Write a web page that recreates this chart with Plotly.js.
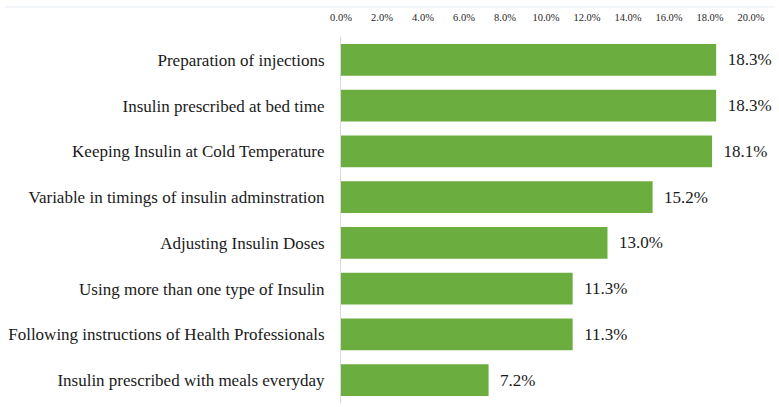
<!DOCTYPE html>
<html>
<head>
<meta charset="utf-8">
<script src="https://cdn.plot.ly/plotly-3.0.1.min.js"></script>
<style>html,body{margin:0;padding:0;background:#fff;}#chart{width:779px;height:407px;}</style>
</head>
<body>
<div id="chart"></div>
<script>
const categories = [
  "Preparation of injections",
  "Insulin prescribed at bed time",
  "Keeping Insulin at Cold Temperature",
  "Variable in timings of insulin adminstration",
  "Adjusting Insulin Doses",
  "Using more than one type of Insulin",
  "Following instructions of Health Professionals",
  "Insulin prescribed with meals everyday"
];
const values = [18.3, 18.3, 18.1, 15.2, 13.0, 11.3, 11.3, 7.2];
const tickValues = [0, 2, 4, 6, 8, 10, 12, 14, 16, 18, 20];
const tickLabels = tickValues.map(v => v.toFixed(1) + "%");
const valueLabels = values.map(v => "\u00a0\u00a0" + v.toFixed(1) + "%");

const font = "Liberation Serif, Times New Roman, serif";

const trace = {
  type: "bar",
  orientation: "h",
  x: values,
  y: categories,
  text: valueLabels,
  textposition: "outside",
  cliponaxis: false,
  textfont: {family: font, size: 17, color: "#1a1a1a"},
  marker: {color: "#6cad40", line: {width: 0}},
  hoverinfo: "none"
};

const layout = {
  width: 779,
  height: 407,
  margin: {l: 341, r: 28, t: 37, b: 4, pad: 0},
  paper_bgcolor: "#ffffff",
  plot_bgcolor: "#ffffff",
  bargap: 0.31,
  showlegend: false,
  font: {family: font, color: "#1a1a1a"},
  xaxis: {
    side: "top",
    range: [0, 20],
    tickvals: tickValues,
    ticktext: tickLabels,
    tickfont: {family: font, size: 10.5, color: "#262626"},
    showgrid: false,
    zeroline: false,
    showline: false,
    ticks: "",
    ticklabelstandoff: 13,
    fixedrange: true
  },
  yaxis: {
    autorange: "reversed",
    tickfont: {family: font, size: 17, color: "#1a1a1a"},
    showgrid: false,
    zeroline: false,
    showline: true,
    linecolor: "#d9d9d9",
    linewidth: 1,
    ticks: "",
    ticklabelstandoff: 12,
    fixedrange: true
  },
  shapes: [{
    type: "line", xref: "paper", yref: "paper",
    x0: -0.82, x1: 1.059, y0: 1.082, y1: 1.082,
    line: {color: "#e6edf4", width: 1}
  }]
};

Plotly.newPlot("chart", [trace], layout, {displayModeBar: false, staticPlot: true});
</script>
</body>
</html>
